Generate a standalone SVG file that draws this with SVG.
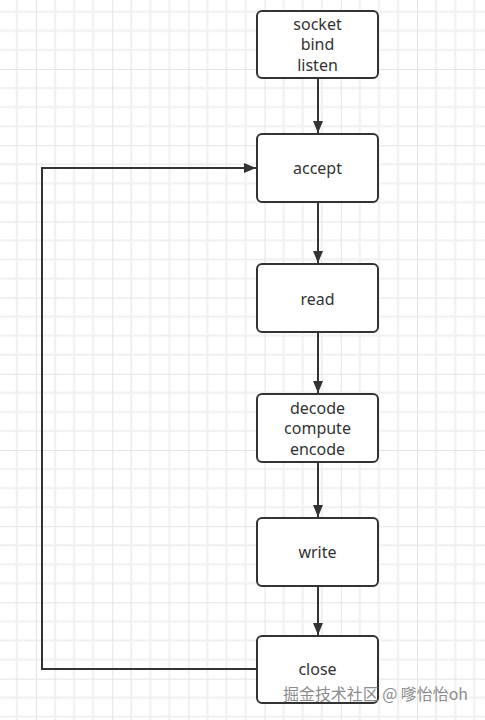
<svg xmlns="http://www.w3.org/2000/svg" width="485" height="720" viewBox="0 0 485 720">
<style>
.box{fill:#fff;stroke:#333;stroke-width:2}
.lbl{font-family:"Noto Sans","Open Sans",sans-serif;font-size:16px;fill:#333;text-anchor:middle}
.edge{fill:none;stroke:#333;stroke-width:2}
.wm{font-family:"Noto Sans CJK SC","Noto Sans",sans-serif;font-size:16px;fill:#8c8c8c}
</style>
<defs>
<pattern id="grid" patternUnits="userSpaceOnUse" x="36" y="69" width="76.2" height="76.2">
<path d="M19.05 0V76.2M38.1 0V76.2M57.15 0V76.2M0 19.05H76.2M0 38.1H76.2M0 57.15H76.2" stroke="#f0f0f0" stroke-width="2" fill="none"/>
<path d="M0 0V76.2M0 0H76.2" stroke="#e3e3e3" stroke-width="2" fill="none"/>
</pattern>
<marker id="arr" markerWidth="12" markerHeight="10" refX="12" refY="5" orient="auto" markerUnits="userSpaceOnUse">
<path d="M0 0L12 5L0 10Z" fill="#333"/>
</marker>
</defs>
<rect width="485" height="720" fill="#fff"/>
<rect width="485" height="720" fill="url(#grid)"/>
<g id="connectors">
<line class="edge" x1="318" y1="78" x2="318" y2="133" marker-end="url(#arr)"/>
<line class="edge" x1="318" y1="202" x2="318" y2="263" marker-end="url(#arr)"/>
<line class="edge" x1="318" y1="332" x2="318" y2="393" marker-end="url(#arr)"/>
<line class="edge" x1="318" y1="462" x2="318" y2="517" marker-end="url(#arr)"/>
<line class="edge" x1="318" y1="586" x2="318" y2="635" marker-end="url(#arr)"/>
<polyline class="edge" points="257,669 42,669 42,168 256,168" marker-end="url(#arr)"/>
</g>
<g id="n-socket">
<rect class="box" x="257" y="11" width="121" height="67" rx="5"/>
<text class="lbl" x="317.5" y="29.5">socket</text>
<text class="lbl" x="317.5" y="50">bind</text>
<text class="lbl" x="317.5" y="70.5">listen</text>
</g>
<g id="n-accept">
<rect class="box" x="257" y="134" width="121" height="68" rx="5"/>
<text class="lbl" x="317.5" y="174">accept</text>
</g>
<g id="n-read">
<rect class="box" x="257" y="264" width="121" height="68" rx="5"/>
<text class="lbl" x="317.5" y="304.5">read</text>
</g>
<g id="n-decode">
<rect class="box" x="257" y="394" width="121" height="68" rx="5"/>
<text class="lbl" x="317.5" y="413.5">decode</text>
<text class="lbl" x="317.5" y="434">compute</text>
<text class="lbl" x="317.5" y="454.5">encode</text>
</g>
<g id="n-write">
<rect class="box" x="257" y="518" width="121" height="68" rx="5"/>
<text class="lbl" x="317.5" y="557.5">write</text>
</g>
<g id="n-close">
<rect class="box" x="257" y="636" width="121" height="67" rx="5"/>
<text class="lbl" x="317.5" y="675">close</text>
</g>
<text class="wm" x="283" y="700" textLength="185" lengthAdjust="spacingAndGlyphs">掘金技术社区 @ 嗲怡怡oh</text>
</svg>
